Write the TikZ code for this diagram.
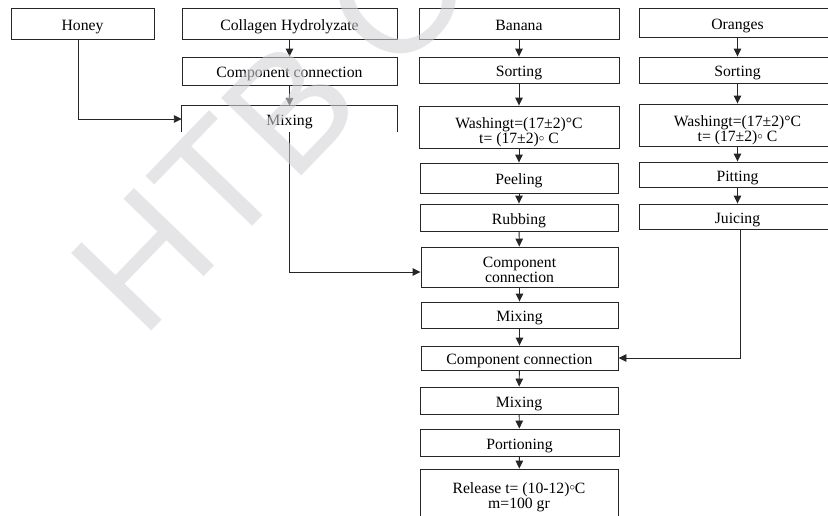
\documentclass[tikz,border=0pt]{standalone}
\usepackage{fontspec}
\setmainfont{Liberation Serif}
\newfontfamily\wmfamily{Liberation Sans}
\usetikzlibrary{arrows.meta}

\definecolor{wmgray}{RGB}{210,211,214}

\begin{document}
\begin{tikzpicture}[x=1pt, y=-1pt,
  txt/.style={inner sep=0pt, align=center, text height=13.5pt, text depth=0pt,
              font=\fontsize{15.7}{15.5}\selectfont},
  box/.style={txt, draw=black!85, line width=0.9pt},
  frame/.style={draw=black!85, line width=0.9pt, inner sep=0pt},
  lines/.style={inner sep=0pt, align=center, font=\fontsize{15.7}{15.5}\selectfont},
  arr/.style={draw=black!85, line width=0.9pt, -{Triangle[length=8pt,width=7.5pt]}},
  wire/.style={draw=black!85, line width=0.9pt}
]
\useasboundingbox (0,0) rectangle (828,515);
\fill[white] (0,0) rectangle (828,515);

% left column: honey and collagen
\node[box, minimum width=143pt, minimum height=31pt] (honey) at (82.5,23.5) {Honey};
\node[box, minimum width=215pt, minimum height=31pt] (coll) at (289.5,23.5) {Collagen Hydrolyzate};
\node[box, minimum width=215pt, minimum height=28pt] (cc1) at (289.5,71) {Component connection};
\node[txt, minimum width=215pt, minimum height=26pt] (mixL) at (289.5,119) {Mixing};
\draw[wire] (mixL.south west) -- (mixL.north west) -- (mixL.north east) -- (mixL.south east);

% banana column
\node[box, minimum width=200pt, minimum height=31pt] (banana) at (519,23.5) {Banana};
\node[box, minimum width=200pt, minimum height=26pt] (bsort) at (519,70) {Sorting};
\node[frame, minimum width=200pt, minimum height=42pt] (bwash) at (519,127) {};
\node[lines] (bwashT) at ([yshift=-5pt]bwash.center) {Washingt=(17±2)°C\\t= (17±2)\raisebox{0.35ex}{$\scriptstyle\circ$} C};
\node[box, minimum width=198pt, minimum height=30pt] (peel) at (519,178) {Peeling};
\node[box, minimum width=198pt, minimum height=27pt] (rub) at (519,217.5) {Rubbing};
\node[frame, minimum width=197pt, minimum height=40pt] (cc2) at (519.5,267) {};
\node[lines] (cc2T) at ([yshift=-3pt]cc2.center) {Component\\connection};
\node[box, minimum width=197pt, minimum height=26pt] (mix2) at (519.5,315) {Mixing};
\node[box, minimum width=197pt, minimum height=24pt] (cc3) at (519.5,358) {Component connection};
\node[box, minimum width=198pt, minimum height=27pt] (mix3) at (519,400.5) {Mixing};
\node[box, minimum width=199pt, minimum height=27pt] (port) at (519.5,442.5) {Portioning};
\node[frame, minimum width=198pt, minimum height=50pt] (release) at (519,494) {};
\node[lines] (releaseT) at ([yshift=-3pt]release.center) {Release t= (10-12)\raisebox{0.35ex}{$\scriptstyle\circ$}C\\m=100 gr};

% orange column
\node[box, minimum width=197pt, minimum height=29pt] (oranges) at (737.5,22.5) {Oranges};
\node[box, minimum width=197pt, minimum height=26pt] (osort) at (737.5,70) {Sorting};
\node[frame, minimum width=197pt, minimum height=42pt] (owash) at (737.5,125) {};
\node[lines] (owashT) at ([yshift=-5pt]owash.center) {Washingt=(17±2)°C\\t= (17±2)\raisebox{0.35ex}{$\scriptstyle\circ$} C};
\node[box, minimum width=197pt, minimum height=25pt] (pit) at (737.5,174.5) {Pitting};
\node[box, minimum width=197pt, minimum height=25pt] (juice) at (737.5,216.5) {Juicing};

% connectors
\draw[arr] (coll) -- (cc1);
\draw[arr] (cc1) -- (mixL.north);
\draw[arr] ([xshift=-4.5pt]honey.south) |- (mixL.west);
\draw[arr] (mixL.south) |- ([yshift=-5pt]cc2.west);

\draw[arr] (banana) -- (bsort);
\draw[arr] (bsort) -- (bwash);
\draw[arr] (bwash) -- (peel);
\draw[arr] (peel) -- (rub);
\draw[arr] (rub) -- (cc2);
\draw[arr] (cc2) -- (mix2);
\draw[arr] (mix2) -- (cc3);
\draw[arr] (cc3) -- (mix3);
\draw[arr] (mix3) -- (port);
\draw[arr] (port) -- (release);

\draw[arr] (oranges) -- (osort);
\draw[arr] (osort) -- (owash);
\draw[arr] (owash) -- (pit);
\draw[arr] (pit) -- (juice);
\draw[arr] ([xshift=2.5pt]juice.south) |- (cc3.east);

% watermark laid over the chart
\node[rotate=46, anchor=base west, inner sep=0pt, text=wmgray, opacity=0.57,
      font=\wmfamily\fontsize{162}{170}\selectfont] (wm) at (142,341) {HTB\kern40pt O};
\end{tikzpicture}
\end{document}
